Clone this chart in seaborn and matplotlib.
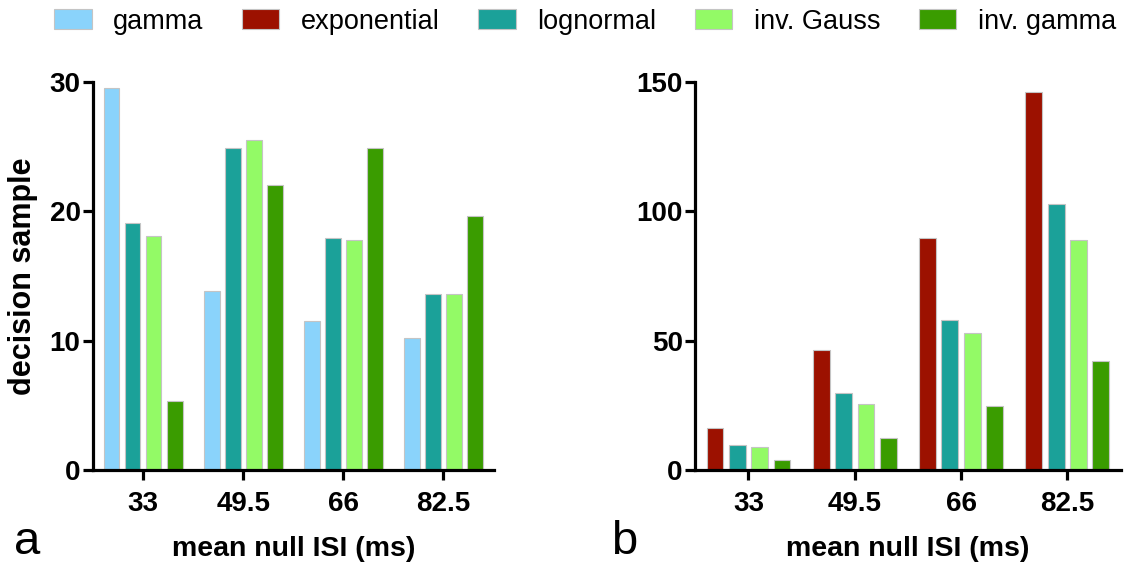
import numpy as np
import pandas as pd
import matplotlib
matplotlib.use('Agg')
import matplotlib.pyplot as plt
from matplotlib.patches import Patch
import seaborn as sns

# Data
isi_labels = ['33', '49.5', '66', '82.5']

# panel a: decision sample
gamma_a = [29.5, 13.8, 11.5, 10.2]
lognormal_a = [19.1, 24.9, 17.9, 13.6]
invgauss_a = [18.1, 25.5, 17.8, 13.6]
invgamma_a = [5.3, 22.0, 24.9, 19.6]

# panel b
exponential_b = [16.0, 46.5, 89.8, 146.3]
lognormal_b = [9.5, 29.6, 57.8, 102.8]
invgauss_b = [8.8, 25.3, 52.9, 88.8]
invgamma_b = [3.7, 12.4, 24.6, 42.1]

dist_names = ['gamma', 'exponential', 'lognormal', 'inv. Gauss', 'inv. gamma']
dist_colors = ['#8AD3FB', '#9C1100', '#1BA199', '#93FA66', '#3A9C00']
palette = dict(zip(dist_names, dist_colors))


def to_long(series):
    rows = []
    for name, vals in series.items():
        for lab, v in zip(isi_labels, vals):
            rows.append({'isi': lab, 'dist': name, 'value': v})
    return pd.DataFrame(rows)


df_a = to_long({'gamma': gamma_a, 'lognormal': lognormal_a,
                'inv. Gauss': invgauss_a, 'inv. gamma': invgamma_a})
df_b = to_long({'exponential': exponential_b, 'lognormal': lognormal_b,
                'inv. Gauss': invgauss_b, 'inv. gamma': invgamma_b})

sns.set_style('ticks', {'axes.edgecolor': 'black', 'xtick.color': 'black',
                        'ytick.color': 'black', 'text.color': 'black',
                        'axes.labelcolor': 'black'})
plt.rcParams['font.family'] = ['Liberation Sans', 'DejaVu Sans']

fig = plt.figure(figsize=(11.25, 5.73), dpi=100)
ax_a = fig.add_axes([0.0827, 0.180, 0.356, 0.677])
ax_b = fig.add_axes([0.618, 0.180, 0.378, 0.677])

panels = [
    (ax_a, df_a, ['gamma', 'lognormal', 'inv. Gauss', 'inv. gamma'], [0, 10, 20, 30], 30),
    (ax_b, df_b, ['exponential', 'lognormal', 'inv. Gauss', 'inv. gamma'], [0, 50, 100, 150], 150),
]

for ax, df, order, yticks, ymax in panels:
    sns.barplot(data=df, x='isi', y='value', hue='dist', hue_order=order,
                order=isi_labels, palette=palette, saturation=1, width=0.84, gap=0.25,
                edgecolor='#c4c4c4', linewidth=0.8, ax=ax, legend=False)
    ax.set_xlim(-0.5, 3.5)
    ax.set_ylim(0, ymax)
    ax.set_yticks(yticks)
    sns.despine(ax=ax)
    for s in ['left', 'bottom']:
        ax.spines[s].set_linewidth(2.3)
        ax.spines[s].set_color('black')
    ax.tick_params(axis='both', direction='out', length=7, width=2.3,
                   labelsize=20, colors='black')
    ax.tick_params(axis='x', pad=8)
    ax.tick_params(axis='y', pad=2)
    for lab in ax.get_xticklabels() + ax.get_yticklabels():
        lab.set_fontweight('bold')
    ax.set_xlabel('mean null ISI (ms)', fontsize=20.5, fontweight='bold',
                  labelpad=14, color='black')
    ax.set_ylabel('')

ax_a.set_ylabel('decision sample', fontsize=22, fontweight='bold',
                labelpad=8, color='black')

fig.text(0.012, 0.015, 'a', fontsize=34, ha='left', va='bottom', color='black')
fig.text(0.543, 0.015, 'b', fontsize=34, ha='left', va='bottom', color='black')

handles = [Patch(facecolor=c, edgecolor='#c4c4c4', linewidth=0.8) for c in dist_colors]
fig.legend(handles, dist_names, loc='center', bbox_to_anchor=(0.52, 0.962),
           ncol=5, frameon=False, fontsize=19.5, handlelength=1.4,
           handleheight=0.75, handletextpad=0.8, columnspacing=1.4,
           labelcolor='black')

fig.savefig('out.png', dpi=100, facecolor='white')
